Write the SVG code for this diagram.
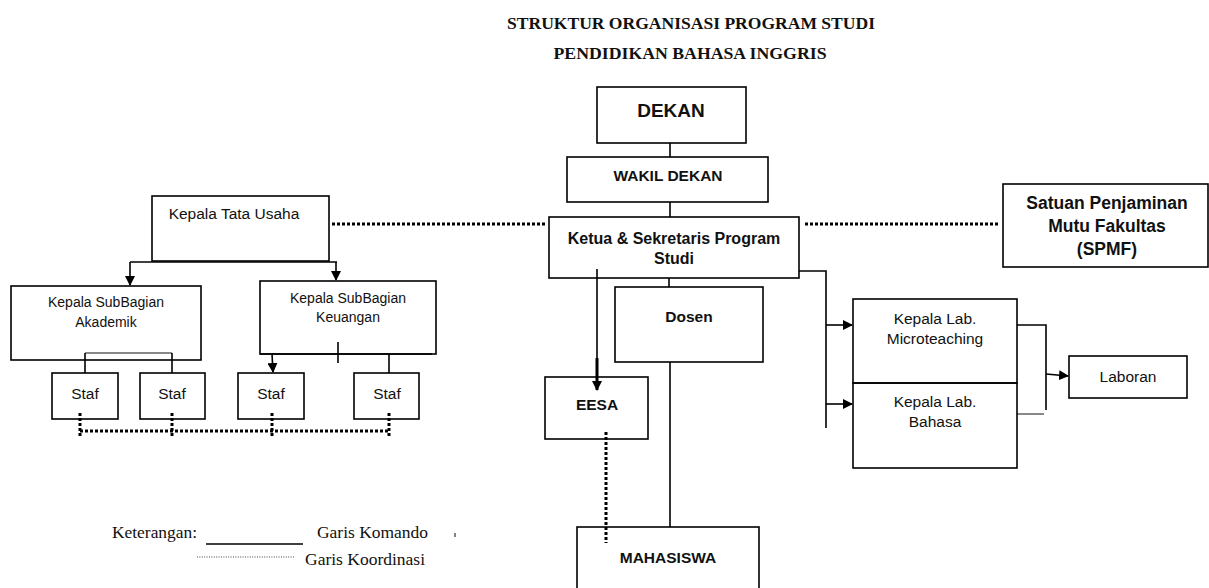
<svg xmlns="http://www.w3.org/2000/svg" width="1209" height="588" viewBox="0 0 1209 588">
<defs>
<marker id="ah" markerWidth="10" markerHeight="10" refX="9" refY="5" orient="auto" markerUnits="userSpaceOnUse">
<path d="M0,0 L10,5 L0,10 z" fill="#000"/>
</marker>
<style>
.box{fill:none;stroke:#000;stroke-width:1.6}
.t{font-family:"Liberation Sans",Arial,sans-serif;font-size:15.5px;fill:#111;text-anchor:middle}
.b{font-family:"Liberation Sans",Arial,sans-serif;font-weight:bold;font-size:15.5px;fill:#111;text-anchor:middle}
.s14{font-size:14px}
.s16{font-size:16px}
.s175{font-size:17.5px}
.s19{font-size:19px}
.ttl{font-family:"Liberation Serif","Times New Roman",serif;font-weight:bold;font-size:17.5px;fill:#111;text-anchor:middle}
.leg{font-family:"Liberation Serif","Times New Roman",serif;font-size:17px;fill:#111}
.ln{fill:none;stroke:#000;stroke-width:1.6}
.gr{fill:none;stroke:#888;stroke-width:2}
.dot{fill:none;stroke:#000;stroke-width:3;stroke-dasharray:3 2}
</style>
</defs>
<rect width="1209" height="588" fill="#fff"/>
<g id="title">
<text class="ttl" x="691" y="29" textLength="368" lengthAdjust="spacingAndGlyphs">STRUKTUR ORGANISASI PROGRAM STUDI</text>
<text class="ttl" x="690" y="59" textLength="273" lengthAdjust="spacingAndGlyphs">PENDIDIKAN BAHASA INGGRIS</text>
</g>
<g id="connectors">
<line class="ln" x1="670" y1="143" x2="670" y2="157"/>
<line class="ln" x1="670" y1="202" x2="670" y2="217"/>
<line class="ln" x1="669" y1="278" x2="669" y2="287"/>
<line class="dot" x1="332" y1="224" x2="545" y2="224"/>
<line class="dot" x1="805" y1="224" x2="999" y2="224"/>
<polyline class="ln" points="799,271 826,271 826,428"/>
<line class="ln" x1="826" y1="325" x2="852" y2="325" marker-end="url(#ah)"/>
<line class="ln" x1="826" y1="404" x2="852" y2="404" marker-end="url(#ah)"/>
<polyline class="ln" points="1017,325 1046,325 1046,410"/>
<line class="gr" x1="1017" y1="414" x2="1044" y2="414"/>
<line class="ln" x1="1046" y1="374" x2="1068" y2="376" marker-end="url(#ah)"/>
<line class="ln" x1="597" y1="269" x2="597" y2="360"/>
<line x1="597" y1="358" x2="597" y2="390" stroke="#000" stroke-width="3" marker-end="url(#ah)"/>
<line class="ln" x1="670" y1="362" x2="670" y2="527"/>
<line class="dot" x1="606" y1="432" x2="606" y2="543"/>
<line class="ln" x1="130" y1="262" x2="337" y2="262"/>
<line class="ln" x1="130" y1="262" x2="130" y2="285" marker-end="url(#ah)"/>
<line class="ln" x1="336" y1="262" x2="336" y2="280" marker-end="url(#ah)"/>
<line class="gr" x1="85" y1="353" x2="172" y2="353"/>
<line class="ln" x1="85" y1="353" x2="85" y2="373"/>
<line class="ln" x1="172" y1="353" x2="172" y2="373"/>
<line class="ln" x1="260" y1="354" x2="432" y2="354"/>
<line class="ln" x1="272" y1="354" x2="273" y2="372" marker-end="url(#ah)"/>
<line class="ln" x1="389" y1="354" x2="389" y2="373"/>
<line class="ln" x1="338" y1="342" x2="338" y2="363"/>
<line class="dot" x1="80" y1="431" x2="389" y2="431"/>
<line class="dot" x1="80" y1="413" x2="80" y2="437"/>
<line class="dot" x1="172" y1="413" x2="172" y2="437"/>
<line class="dot" x1="272" y1="413" x2="272" y2="437"/>
<line class="dot" x1="389" y1="413" x2="389" y2="437"/>
</g>
<g id="dekan"><rect class="box" x="597" y="87" width="149" height="56"/><text class="b s19" x="671" y="117">DEKAN</text></g>
<g id="wakil-dekan"><rect class="box" x="567" y="157" width="201" height="45"/><text class="b" x="668" y="181">WAKIL DEKAN</text></g>
<g id="ketua"><rect class="box" x="549" y="217" width="250" height="61"/><text class="b s16" x="674" y="244">Ketua &amp; Sekretaris Program</text><text class="b s16" x="674" y="264">Studi</text></g>
<g id="spmf"><rect class="box" x="1003" y="184" width="205" height="83"/><text class="b s175" x="1107" y="209">Satuan Penjaminan</text><text class="b s175" x="1107" y="232">Mutu Fakultas</text><text class="b s175" x="1107" y="255">(SPMF)</text></g>
<g id="tata-usaha"><rect class="box" x="152" y="196" width="177" height="65"/><text class="t" x="234" y="219">Kepala Tata Usaha</text></g>
<g id="akademik"><rect class="box" x="11" y="286" width="190" height="74"/><text class="t s14" x="106" y="307">Kepala SubBagian</text><text class="t s14" x="106" y="327">Akademik</text></g>
<g id="keuangan"><rect class="box" x="260" y="281" width="176" height="73"/><text class="t s14" x="348" y="303">Kepala SubBagian</text><text class="t s14" x="348" y="322">Keuangan</text></g>
<g id="staf1"><rect class="box" x="52" y="373" width="66" height="46"/><text class="t" x="85" y="399">Staf</text></g>
<g id="staf2"><rect class="box" x="140" y="373" width="65" height="46"/><text class="t" x="172" y="399">Staf</text></g>
<g id="staf3"><rect class="box" x="238" y="373" width="66" height="46"/><text class="t" x="271" y="399">Staf</text></g>
<g id="staf4"><rect class="box" x="354" y="373" width="65" height="46"/><text class="t" x="387" y="399">Staf</text></g>
<g id="dosen"><rect class="box" x="615" y="287" width="148" height="75"/><text class="b" x="689" y="322">Dosen</text></g>
<g id="eesa"><rect class="box" x="545" y="377" width="103" height="62"/><text class="b" x="597" y="410">EESA</text></g>
<g id="mahasiswa"><rect class="box" x="577" y="527" width="182" height="70"/><text class="b" x="668" y="563">MAHASISWA</text></g>
<g id="lab-micro"><rect class="box" x="853" y="299" width="164" height="84"/><text class="t" x="935" y="324">Kepala Lab.</text><text class="t" x="935" y="344">Microteaching</text></g>
<g id="lab-bahasa"><rect class="box" x="853" y="383" width="164" height="85"/><text class="t" x="935" y="407">Kepala Lab.</text><text class="t" x="935" y="427">Bahasa</text></g>
<g id="laboran"><rect class="box" x="1069" y="356" width="118" height="42"/><text class="t" x="1128" y="382">Laboran</text></g>
<g id="legend">
<text class="leg" x="112" y="538" textLength="85" lengthAdjust="spacingAndGlyphs">Keterangan:</text>
<line x1="206" y1="544" x2="303" y2="544" stroke="#000" stroke-width="1.6"/>
<text class="leg" x="317" y="538" textLength="111" lengthAdjust="spacingAndGlyphs">Garis Komando</text>
<line x1="455" y1="533" x2="455" y2="537" stroke="#333" stroke-width="1.2"/>
<line x1="197" y1="557" x2="295" y2="557" stroke="#444" stroke-width="1" stroke-dasharray="1 1.4"/>
<text class="leg" x="305" y="565" textLength="120" lengthAdjust="spacingAndGlyphs">Garis Koordinasi</text>
</g>
</svg>
